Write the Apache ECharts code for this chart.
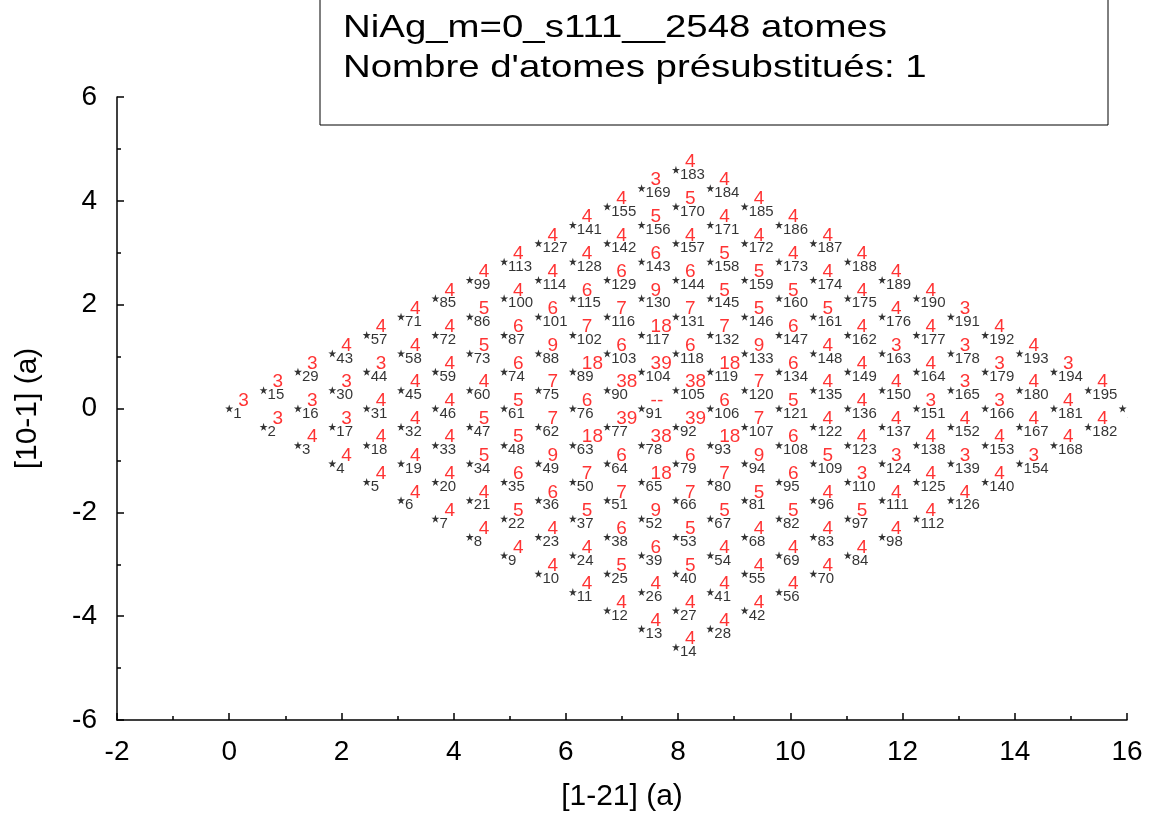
<!DOCTYPE html>
<html><head><meta charset="utf-8">
<script src="https://cdn.jsdelivr.net/npm/echarts@6/dist/echarts.min.js"></script>
<style>html,body{margin:0;padding:0;background:#fff}#c{width:1163px;height:819px}</style>
</head><body><div id="c"></div>
<script>
// ---- data ----
const titleLines = ['NiAg_m=0_s111__2548 atomes', "Nombre d'atomes présubstitués: 1"];
const xAxisName = '[1-21] (a)';
const yAxisName = '[10-1] (a)';
const xRange = [-2, 16];
const yRange = [-6, 6];
// lattice of the (111) surface cell: 14 rows x 14 atoms, atom n = row*14 + col + 1
const latticeRows = 14;
const latticeCols = 14;
const stepAlongRow = [0.6124, -0.3536];   // [1-21], [10-1] components
const stepAcrossRows = [0.6124, 0.3536];
// red numbers printed next to each atom (1..196)
const redNumbers = [
  '3','3','4','4','4','4','4','4','4','4','4','4','4','4',
  '3','3','3','4','4','4','4','5','4','4','5','4','4','4',
  '3','3','4','4','4','5','6','6','5','6','6','5','4','4',
  '4','3','4','4','5','5','9','7','7','9','5','4','4','4',
  '4','4','4','4','5','7','18','6','18','7','5','4','4','4',
  '4','4','5','6','7','6','39','38','6','7','5','5','4','4',
  '4','5','6','9','18','38','--','39','18','9','6','4','5','4',
  '4','4','6','7','6','39','38','6','7','6','5','3','4','4',
  '4','4','6','7','18','6','18','7','5','4','4','3','4','4',
  '4','4','6','9','7','7','9','6','4','4','4','4','3','4',
  '4','4','6','6','5','5','6','4','4','4','3','4','4','3',
  '4','5','4','5','5','5','5','4','3','4','3','3','4','4',
  '3','5','4','4','4','4','4','4','4','3','3','4','4','4',
  '4','4','4','4','4','4','4','4','3','4','4','3','4','3'
];

const atoms = [];
for (let r = 0; r < latticeRows; r++) {
  for (let c = 0; c < latticeCols; c++) {
    const n = r * latticeCols + c + 1;
    atoms.push([
      c * stepAlongRow[0] + r * stepAcrossRows[0],
      c * stepAlongRow[1] + r * stepAcrossRows[1],
      n, redNumbers[n - 1]
    ]);
  }
}

const FONT = '"Liberation Sans", Arial, sans-serif';
const star = 'path://M50,0 L61.2,34.5 L97.6,34.5 L68.2,55.9 L79.4,90.5 L50,69.1 L20.6,90.5 L31.8,55.9 L2.4,34.5 L38.8,34.5 Z';

const chart = echarts.init(document.getElementById('c'), null, {renderer: 'canvas'});
const axisCommon = {
  axisLine: {show: true, onZero: false, lineStyle: {color: '#000', width: 1.5}},
  axisTick: {show: true, inside: true, length: 7, lineStyle: {color: '#000', width: 1.5}},
  minorTick: {show: true, splitNumber: 2, length: 4, lineStyle: {color: '#000', width: 1.5}},
  splitLine: {show: false},
  axisLabel: {color: '#000', fontSize: 28, fontFamily: FONT},
  nameTextStyle: {color: '#000', fontSize: 30, fontFamily: FONT}
};
chart.setOption({
  animation: false,
  backgroundColor: '#fff',
  grid: {left: 117, right: 36, top: 97, bottom: 99, containLabel: false, outerBoundsMode: 'none'},
  xAxis: Object.assign({}, axisCommon, {
    type: 'value', min: xRange[0], max: xRange[1], interval: 2,
    name: xAxisName, nameLocation: 'middle', nameGap: 62,
    axisLabel: Object.assign({}, axisCommon.axisLabel, {margin: 18})
  }),
  yAxis: Object.assign({}, axisCommon, {
    type: 'value', min: yRange[0], max: yRange[1], interval: 2,
    name: yAxisName, nameLocation: 'middle', nameGap: 74,
    axisLabel: Object.assign({}, axisCommon.axisLabel, {margin: 20})
  }),
  series: [
    {
      type: 'scatter', data: atoms, symbol: star, symbolSize: 8, silent: true,
      itemStyle: {color: '#000'},
      label: {show: true, formatter: p => String(p.data[2]), position: [8, 9],
        align: 'left', verticalAlign: 'middle', color: '#000', fontSize: 15, fontFamily: FONT},
      labelLayout: {hideOverlap: false}
    },
    {
      type: 'scatter', data: atoms, symbol: 'circle', symbolSize: 2, silent: true,
      itemStyle: {color: 'rgba(0,0,0,0)'},
      label: {show: true, formatter: p => p.data[3], position: [10, -7],
        align: 'left', verticalAlign: 'middle', color: '#ff0000', fontSize: 19, fontFamily: FONT},
      labelLayout: {hideOverlap: false}
    }
  ],
  graphic: [
    {type: 'rect', z: 100, silent: true, shape: {x: 1128, y: 90, width: 40, height: 626},
      style: {fill: '#fff'}},
    {type: 'rect', z: 100, silent: true, shape: {x: 320, y: -1, width: 788, height: 126},
      style: {fill: '#fff', stroke: '#000', lineWidth: 1}},
    {type: 'text', z: 101, silent: true, x: 343, y: 28, scaleX: 1.2,
      style: {text: titleLines[0], font: '32px ' + FONT, fill: '#000', textVerticalAlign: 'middle'}},
    {type: 'text', z: 101, silent: true, x: 343, y: 68, scaleX: 1.2,
      style: {text: titleLines[1], font: '32px ' + FONT, fill: '#000', textVerticalAlign: 'middle'}}
  ]
});
</script></body></html>
